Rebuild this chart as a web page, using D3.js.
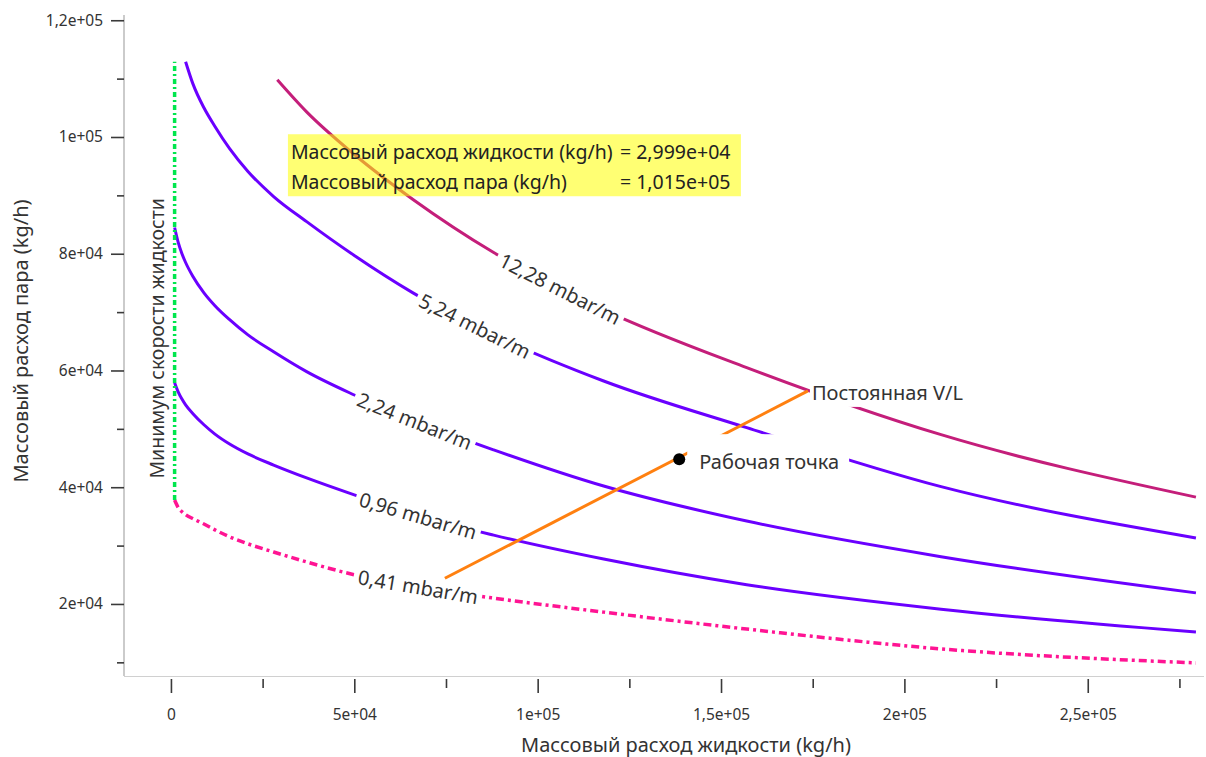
<!DOCTYPE html>
<html>
<head>
<meta charset="utf-8">
<script src="https://cdn.jsdelivr.net/npm/d3@7"></script>
<style>
  html, body { margin: 0; padding: 0; background: #fff; }
  svg { display: block; font-family: "Noto Sans", "Open Sans", sans-serif; }
</style>
</head>
<body>
<svg id="chart" width="1206" height="757"></svg>
<script>
// Liquid mass flow grid (kg/h) shared by the pressure-drop curves
const liquidGrid = [1000, 2000, 3000, 4000, 6000, 9000, 12000, 16000, 21000, 28000,
                    37000, 50000, 66000, 88000, 118000, 157000, 210000, 279500];

// Vapor mass flow (kg/h) along each constant pressure-drop curve
const dp041 = [37800, 36500, 35800, 35300, 34600, 33700, 32700, 31500, 30300, 28900,
               27200, 25000, 23100, 21000, 18600, 15700, 12300, 9900];
const dp096 = [57900, 56300, 55100, 54100, 52600, 50700, 49100, 47400, 45700, 43800,
               41600, 38700, 35400, 31800, 27700, 23300, 19100, 15200];
const dp224 = [84500, 81900, 80000, 78500, 76100, 73300, 71100, 68700, 66100, 63200,
               59800, 55800, 51500, 46400, 40200, 34200, 28100, 21900];
const dp524Liquid = [4000, 6000, 9000, 12000, 16000, 21000, 28000, 37000, 50000, 66000,
                     88000, 118000, 157000, 210000, 279500];
const dp524 = [112900, 109100, 105000, 101800, 98000, 94100, 89800, 85500, 79700, 73300,
               66100, 58200, 50200, 40100, 31300];
const dp1228Liquid = [29000, 37000, 50000, 66000, 88000, 118000, 157000, 210000, 279500];
const dp1228 = [109800, 104300, 97000, 89300, 80200, 70400, 60500, 49000, 38300];

// Minimum liquid velocity boundary
const minLiquidL = [1000, 1000];
const minLiquidV = [37800, 112900];

// Constant V/L line and operating point
const vlLineL = [74700, 173700];
const vlLineV = [24400, 56500];
const opPoint = [138600, 44800];

// Hover read-out
const cursorL = 29990;
const cursorV = 101500;

// Axis ticks
const xMajorTicks = [0, 50000, 100000, 150000, 200000, 250000];
const xMinorTicks = [25000, 75000, 125000, 175000, 225000, 275000];
const yMajorTicks = [20000, 40000, 60000, 80000, 100000, 120000];
const yMinorTicks = [10000, 30000, 50000, 70000, 90000, 110000];

const svg = d3.select("#chart");
const plot = { left: 124, right: 1204, top: 15, bottom: 675 };

const x = d3.scaleLinear().domain([-12800, 281700]).range([plot.left, plot.right]);
const y = d3.scaleLinear().domain([7830, 120900]).range([plot.bottom, plot.top]);

const sci = v => {
  if (v === 0) return "0";
  const [m, e] = v.toExponential().split("e");
  return m.replace(".", ",") + "e" + e[0] + e.slice(1).padStart(2, "0");
};
const sci4 = v => {
  const [m, e] = v.toExponential(3).split("e");
  return m.replace(".", ",") + "e" + e[0] + e.slice(1).padStart(2, "0");
};

const LABEL_SIZE = 20;

// ---- axes ----
const axisG = svg.append("g");
axisG.append("line").attr("x1", plot.left).attr("x2", plot.left)
  .attr("y1", plot.top).attr("y2", plot.bottom + 1)
  .attr("stroke", "#a8a8a8").attr("stroke-width", 1.2);
axisG.append("line").attr("x1", plot.left).attr("x2", plot.right)
  .attr("y1", plot.bottom + 1.5).attr("y2", plot.bottom + 1.5)
  .attr("stroke", "#d0d0d0").attr("stroke-width", 1.2);

const yAxisMajor = d3.axisLeft(y).tickValues(yMajorTicks).tickSize(13).tickPadding(8).tickFormat(sci);
const yAxisMinor = d3.axisLeft(y).tickValues(yMinorTicks).tickSize(7).tickFormat("");
const gy = axisG.append("g").attr("transform", `translate(${plot.left},0)`).call(yAxisMajor);
const gy2 = axisG.append("g").attr("transform", `translate(${plot.left},0)`).call(yAxisMinor);

const xAxisMajor = d3.axisBottom(x).tickValues(xMajorTicks).tickSize(14).tickPadding(16).tickFormat(sci);
const xAxisMinor = d3.axisBottom(x).tickValues(xMinorTicks).tickSize(9).tickFormat("");
const gx = axisG.append("g").attr("transform", `translate(0,${plot.bottom + 4})`).call(xAxisMajor);
const gx2 = axisG.append("g").attr("transform", `translate(0,${plot.bottom + 4})`).call(xAxisMinor);

[gy, gy2, gx, gx2].forEach(g => {
  g.select(".domain").remove();
  g.selectAll(".tick line").attr("stroke", "#3a3a3a").attr("stroke-width", 1.6);
  g.selectAll(".tick text").attr("fill", "#333").attr("font-size", 15.5)
    .attr("font-family", "'Noto Sans', sans-serif");
});

svg.append("text").attr("x", 686).attr("y", 752).attr("text-anchor", "middle")
  .attr("font-size", LABEL_SIZE).attr("fill", "#333").text("Массовый расход жидкости (kg/h)");
svg.append("text").attr("transform", "translate(28,341) rotate(-90)").attr("text-anchor", "middle")
  .attr("font-size", LABEL_SIZE).attr("fill", "#333").text("Массовый расход пара (kg/h)");

// ---- curves ----
const line = d3.line().x(d => x(d[0])).y(d => y(d[1]));
const smooth = d3.line().x(d => x(d[0])).y(d => y(d[1])).curve(d3.curveMonotoneX);
const zipPts = (ls, vs) => ls.map((l, i) => [l, vs[i]]);

const curves = [
  { name: "0,41 mbar/m", pts: zipPts(liquidGrid, dp041), color: "#ff1493", width: 3.5, dash: "8,4,3,4", labelL: 67400 },
  { name: "0,96 mbar/m", pts: zipPts(liquidGrid, dp096), color: "#6a00ff", width: 3, dash: null, labelL: 67400 },
  { name: "2,24 mbar/m", pts: zipPts(liquidGrid, dp224), color: "#6a00ff", width: 3, dash: null, labelL: 66500 },
  { name: "5,24 mbar/m", pts: zipPts(dp524Liquid, dp524), color: "#6a00ff", width: 3, dash: null, labelL: 82900 },
  { name: "12,28 mbar/m", pts: zipPts(dp1228Liquid, dp1228), color: "#c41e7a", width: 3, dash: null, labelL: 106100 }
];

const curveG = svg.append("g");
curves.forEach(c => {
  c.path = curveG.append("path").attr("d", smooth(c.pts)).attr("fill", "none")
    .attr("stroke", c.color).attr("stroke-width", c.width)
    .attr("stroke-dasharray", c.dash).attr("stroke-linejoin", "round");
  // sampled outline of the drawn path, used to seat the label on it
  const node = c.path.node(), len = node.getTotalLength();
  c.samples = d3.range(0, len, 0.5).map(s => node.getPointAtLength(s));
});

// minimum liquid velocity boundary
curveG.append("path").attr("d", line(zipPts(minLiquidL, minLiquidV)))
  .attr("fill", "none").attr("stroke", "#00e64d").attr("stroke-width", 3.5)
  .attr("stroke-dasharray", "5,3,2,3");

svg.append("text")
  .attr("transform", `translate(${x(minLiquidL[0]) - 18},${y(65500)}) rotate(-90)`)
  .attr("text-anchor", "middle").attr("dominant-baseline", "central")
  .attr("font-size", LABEL_SIZE - 0.5).attr("fill", "#333").text("Минимум скорости жидкости");

// ---- curve labels on a white background, rotated along the curve ----
function pyAt(samples, px) {
  let best = samples[0];
  for (const p of samples) if (Math.abs(p.x - px) < Math.abs(best.x - px)) best = p;
  return best.y;
}
const labelG = svg.append("g");
curves.forEach(c => {
  const cx = x(c.labelL);
  const cy = pyAt(c.samples, cx);
  const g = labelG.append("g");
  const t = g.append("text").attr("text-anchor", "middle").attr("dominant-baseline", "central")
    .attr("font-size", LABEL_SIZE).attr("fill", "#333").text(c.name);
  const w = t.node().getComputedTextLength();
  const half = w / 2 * 0.9;
  const a0 = pyAt(c.samples, cx - half), a1 = pyAt(c.samples, cx + half);
  const ang = Math.atan2(a1 - a0, 2 * half) * 180 / Math.PI;
  g.insert("rect", "text").attr("x", -w / 2 - 4).attr("y", -12).attr("width", w + 8).attr("height", 24)
    .attr("fill", "#fff");
  g.attr("transform", `translate(${cx},${cy}) rotate(${ang})`);
});

// ---- constant V/L line and operating point ----
svg.append("path").attr("d", line(zipPts(vlLineL, vlLineV))).attr("fill", "none")
  .attr("stroke", "#ff8010").attr("stroke-width", 3);

const vlEnd = [x(vlLineL[1]), y(vlLineV[1])];
const vlLab = svg.append("g").attr("transform", `translate(${vlEnd[0] + 4},${vlEnd[1] + 2})`);
const vlText = vlLab.append("text").attr("dominant-baseline", "central").attr("font-size", LABEL_SIZE)
  .attr("fill", "#333").text("Постоянная V/L");
vlLab.insert("rect", "text").attr("x", -2).attr("y", -13)
  .attr("width", vlText.node().getComputedTextLength() + 6).attr("height", 27).attr("fill", "#fff");

const op = [x(opPoint[0]), y(opPoint[1])];
const opLab = svg.append("g").attr("transform", `translate(${op[0] + 20},${op[1] + 2})`);
const opText = opLab.append("text").attr("dominant-baseline", "central").attr("font-size", LABEL_SIZE)
  .attr("fill", "#333").text("Рабочая точка");
opLab.insert("rect", "text").attr("x", -12).attr("y", -27)
  .attr("width", opText.node().getComputedTextLength() + 22).attr("height", 50).attr("fill", "#fff");
svg.append("circle").attr("cx", op[0]).attr("cy", op[1]).attr("r", 6).attr("fill", "#000");

// ---- hover read-out box ----
const tip = svg.append("g").attr("transform", `translate(${x(cursorL) + 7},${y(cursorV) + 6})`);
tip.append("rect").attr("width", 453).attr("height", 62).attr("fill", "#ffff00").attr("fill-opacity", 0.55);
const tipRows = [
  ["Массовый расход жидкости (kg/h)", sci4(cursorL)],
  ["Массовый расход пара (kg/h)", sci4(cursorV)]
];
tipRows.forEach((r, i) => {
  tip.append("text").attr("x", 3).attr("y", 17 + i * 30).attr("dominant-baseline", "central")
    .attr("font-size", 19.5).attr("fill", "#222").text(r[0]);
  tip.append("text").attr("x", 332).attr("y", 17 + i * 30).attr("dominant-baseline", "central")
    .attr("font-size", 19.5).attr("fill", "#222").text("= " + r[1]);
});
</script>
</body>
</html>
